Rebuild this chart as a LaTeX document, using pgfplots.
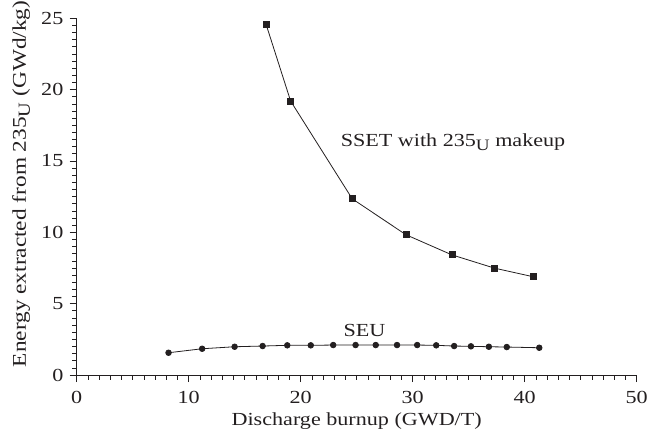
\documentclass[border=0pt]{standalone}
\usepackage{pgfplots}
\pgfplotsset{compat=1.18}
\usepackage{fontspec}
\setmainfont[FakeStretch=1.2]{Liberation Serif}
\definecolor{ink}{HTML}{231F20}
\newcommand{\sub}{\raisebox{-0.45ex}{\fontsize{16}{16}\selectfont U}}
\newcommand{\suby}{\raisebox{-0.45ex}{\fontsize{17}{17}\selectfont U}}
\newcommand{\lab}{\fontsize{18.5}{21}\selectfont}
\newcommand{\laby}{\fontsize{19.5}{22}\selectfont}
\begin{document}
\lab
\begin{tikzpicture}
\begin{axis}[
  scale only axis, width=560bp, height=356.7bp,
  xmin=0, xmax=50, ymin=0, ymax=25,
  axis lines=left,
  axis line style={-, ink, line width=0.8bp},
  tick style={ink, line width=0.7bp},
  tick align=outside,
  xtick={0,10,...,50}, ytick={0,5,...,25},
  minor x tick num=9, minor y tick num=9,
  major tick length=7bp, minor tick length=4.5bp,
  ticklabel style={font=\lab, text=ink},
  xticklabel style={yshift=-3bp},
  /pgf/number format/assume math mode=true,
  xlabel={Discharge burnup (GWD/T)},
  ylabel={Energy extracted from 235\suby{} (GWd/kg)},
  every axis x label/.style={at={(axis description cs:0.5,0)}, anchor=base, yshift=-50bp, font=\lab, text=ink},
  every axis y label/.style={at={(axis description cs:0,0.5)}, xshift=-55.5bp, yshift=12.7bp, rotate=90, anchor=center, font=\laby, text=ink},
  clip=false,
]
\addplot[ink, line width=0.8bp, mark=square*, mark size=3bp, mark options={fill=ink, draw=ink}] coordinates {
(16.9,24.6) (19.1,19.2) (24.6,12.35) (29.4,9.83) (33.5,8.42) (37.3,7.49) (40.8,6.88)
};
\addplot[ink, line width=0.8bp, mark=*, mark size=2.8bp, mark options={fill=ink, draw=ink}] coordinates {
(8.2,1.56) (11.2,1.84) (14.1,1.98) (16.6,2.03) (18.8,2.08) (20.9,2.08) (22.9,2.10) (24.9,2.10) (26.7,2.10) (28.6,2.10) (30.4,2.10) (32.1,2.08) (33.7,2.03) (35.2,2.01) (36.8,1.98) (38.4,1.96) (41.3,1.91)
};
\node[text=ink, font=\lab] at (axis cs:33.6,16.3) {SSET with 235\sub{} makeup};
\node[text=ink, font=\lab] at (axis cs:25.7,3.15) {SEU};
\coordinate (ll) at (rel axis cs:0,0);
\coordinate (ur) at (rel axis cs:1,1);
\end{axis}
\pgfresetboundingbox
\path ([shift={(-76.7bp,-59bp)}]ll) rectangle ([shift={(10.3bp,18.3bp)}]ur);
\end{tikzpicture}
\end{document}
